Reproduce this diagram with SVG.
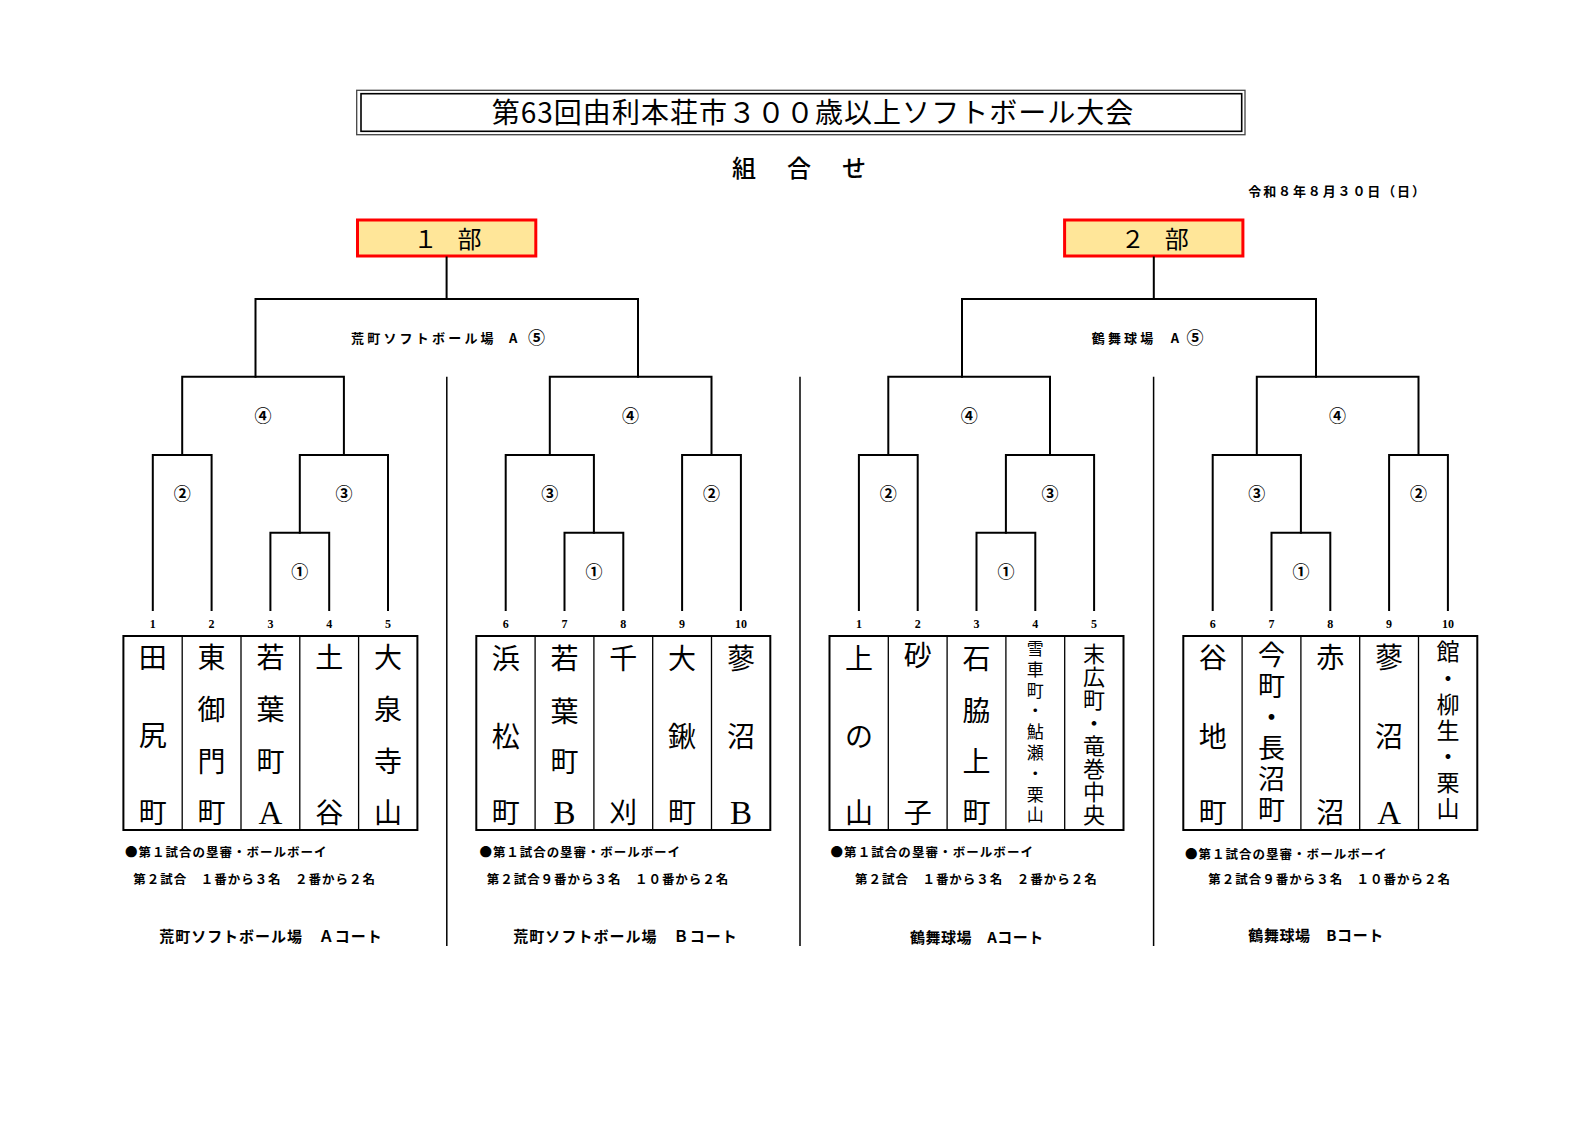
<svg xmlns="http://www.w3.org/2000/svg" width="1588" height="1123" viewBox="0 0 1588 1123">
<style>
.ln{stroke:#000;stroke-width:2;fill:none;stroke-linecap:square}
.dv{stroke:#000;stroke-width:1.5;fill:none}
.tb{stroke:#000;stroke-width:2;fill:#fff}
.cl{stroke:#000;stroke-width:1.3}
.jp{font-family:"Noto Sans CJK JP","Noto Sans",sans-serif}
.nm{font-family:"Noto Sans CJK JP",sans-serif;font-size:28px;text-anchor:middle;fill:#000}
.vt{font-family:"Noto Sans CJK JP",sans-serif;writing-mode:vertical-rl;text-orientation:upright;fill:#000}
.lat{font-family:"Liberation Serif","Noto Sans CJK JP",serif;font-size:33px;text-anchor:middle;fill:#000}
.num{font-family:"Liberation Serif",serif;font-size:12px;font-weight:bold;text-anchor:middle}
.cir{font-family:"Noto Sans CJK JP",sans-serif;font-size:17px;font-weight:bold;text-anchor:middle}
.ven{font-family:"Noto Sans CJK JP",sans-serif;font-size:13px;font-weight:bold}
.note{font-family:"Noto Sans CJK JP",sans-serif;font-size:12.5px;font-weight:bold}
.crt{font-family:"Noto Sans CJK JP",sans-serif;font-size:15px;font-weight:bold}
.bu{fill:#FFE699;stroke:#FF0000;stroke-width:3}
.but{font-family:"Noto Sans CJK JP",sans-serif;font-size:24px;text-anchor:middle;letter-spacing:-2px}
</style>
<rect x="0" y="0" width="1588" height="1123" fill="#fff"/>

<g id="title">
<rect x="356.7" y="90.3" width="888.3" height="44.4" fill="none" stroke="#444" stroke-width="1.3"/>
<rect x="361" y="93.7" width="880.7" height="37.6" fill="none" stroke="#000" stroke-width="1.6"/>
<text class="jp" x="491.7" y="123.2" font-size="28" textLength="641.6" lengthAdjust="spacing">第63回由利本荘市３００歳以上ソフトボール大会</text>
</g>
<g id="subtitle"><text class="jp" x="732" y="177.4" font-size="24" font-weight="500" letter-spacing="3.5">組　合　せ</text></g>
<g id="date"><text class="jp" x="1248.3" y="196" font-size="13" font-weight="bold" textLength="176.7" lengthAdjust="spacing">令和８年８月３０日（日）</text></g>

<g id="div1"><rect class="bu" x="357.5" y="220" width="178.3" height="36"/><text class="but" x="446.6" y="248">１　部</text></g>
<g id="div2"><rect class="bu" x="1064.6" y="220" width="178.3" height="36"/><text class="but" x="1153.8" y="248">２　部</text></g>

<g id="connectors">
<path class="ln" d="M446.6,257.5V299M255.5,376.7V299H638V376.7"/>
<path class="ln" d="M1153.8,257.5V299M962,376.7V299H1316V376.7"/>
<path class="ln" d="M152.8,610V455H211.6V610"/>
<path class="ln" d="M270.4,610V532.7H329.2V610"/>
<path class="ln" d="M299.8,532.7V455H388V610"/>
<path class="ln" d="M182.2,455V376.7H343.9V455"/>
<path class="ln" d="M505.7,610V455H593.9V532.7"/>
<path class="ln" d="M564.5,610V532.7H623.3V610"/>
<path class="ln" d="M682.1,610V455H740.9V610"/>
<path class="ln" d="M549.8,455V376.7H711.5V455"/>
<path class="ln" d="M858.9,610V455H917.7V610"/>
<path class="ln" d="M976.5,610V532.7H1035.3V610"/>
<path class="ln" d="M1005.9,532.7V455H1094.1V610"/>
<path class="ln" d="M888.3,455V376.7H1050V455"/>
<path class="ln" d="M1212.7,610V455H1300.9V532.7"/>
<path class="ln" d="M1271.5,610V532.7H1330.3V610"/>
<path class="ln" d="M1389.1,610V455H1447.9V610"/>
<path class="ln" d="M1256.8,455V376.7H1418.5V455"/>
<path class="dv" d="M446.8,376.7V946M800,376.7V946M1153.6,376.7V946"/>
</g>

<g id="match-labels">
<text class="ven" x="351" y="343" letter-spacing="3.2">荒町ソフトボール場</text>
<text class="ven" x="513.2" y="343" text-anchor="middle">A</text>
<text class="cir" x="536.4" y="344">⑤</text>
<text class="ven" x="1091.7" y="343" letter-spacing="3.2">鶴舞球場</text>
<text class="ven" x="1175" y="343" text-anchor="middle">A</text>
<text class="cir" x="1195" y="344">⑤</text>
<text class="cir" x="263" y="422">④</text><text class="cir" x="182.2" y="500">②</text><text class="cir" x="343.9" y="500">③</text><text class="cir" x="299.8" y="577.7">①</text>
<text class="cir" x="630.6" y="422">④</text><text class="cir" x="549.8" y="500">③</text><text class="cir" x="711.5" y="500">②</text><text class="cir" x="593.9" y="577.7">①</text>
<text class="cir" x="969.2" y="422">④</text><text class="cir" x="888.3" y="500">②</text><text class="cir" x="1050" y="500">③</text><text class="cir" x="1005.9" y="577.7">①</text>
<text class="cir" x="1337.6" y="422">④</text><text class="cir" x="1256.8" y="500">③</text><text class="cir" x="1418.5" y="500">②</text><text class="cir" x="1300.9" y="577.7">①</text>
</g>

<g id="seed-numbers">
<text class="num" x="152.8" y="628.3">1</text><text class="num" x="211.6" y="628.3">2</text><text class="num" x="270.4" y="628.3">3</text><text class="num" x="329.2" y="628.3">4</text><text class="num" x="388" y="628.3">5</text>
<text class="num" x="505.7" y="628.3">6</text><text class="num" x="564.5" y="628.3">7</text><text class="num" x="623.3" y="628.3">8</text><text class="num" x="682.1" y="628.3">9</text><text class="num" x="740.9" y="628.3">10</text>
<text class="num" x="858.9" y="628.3">1</text><text class="num" x="917.7" y="628.3">2</text><text class="num" x="976.5" y="628.3">3</text><text class="num" x="1035.3" y="628.3">4</text><text class="num" x="1094.1" y="628.3">5</text>
<text class="num" x="1212.7" y="628.3">6</text><text class="num" x="1271.5" y="628.3">7</text><text class="num" x="1330.3" y="628.3">8</text><text class="num" x="1389.1" y="628.3">9</text><text class="num" x="1447.9" y="628.3">10</text>
</g>

<g id="tables">
<rect class="tb" x="123.4" y="636" width="294" height="194"/>
<path class="cl" d="M182.2,636V830M241,636V830M299.8,636V830M358.6,636V830"/>
<rect class="tb" x="476.3" y="636" width="294" height="194"/>
<path class="cl" d="M535.1,636V830M593.9,636V830M652.7,636V830M711.5,636V830"/>
<rect class="tb" x="829.5" y="636" width="294" height="194"/>
<path class="cl" d="M888.3,636V830M947.1,636V830M1005.9,636V830M1064.7,636V830"/>
<rect class="tb" x="1183.3" y="636" width="294" height="194"/>
<path class="cl" d="M1242.1,636V830M1300.9,636V830M1359.7,636V830M1418.5,636V830"/>
</g>

<g id="teamA1"><text class="nm"><tspan x="152.8" y="667.5">田</tspan><tspan x="152.8" y="745.5">尻</tspan><tspan x="152.8" y="823">町</tspan></text></g>
<g id="teamA2"><text class="nm"><tspan x="211.6" y="667.5">東</tspan><tspan x="211.6" y="720">御</tspan><tspan x="211.6" y="772">門</tspan><tspan x="211.6" y="823">町</tspan></text></g>
<g id="teamA3"><text class="nm"><tspan x="270.4" y="667.5">若</tspan><tspan x="270.4" y="720">葉</tspan><tspan x="270.4" y="772">町</tspan></text><text class="lat" x="270.4" y="824">A</text></g>
<g id="teamA4"><text class="nm"><tspan x="329.2" y="667.5">土</tspan><tspan x="329.2" y="823">谷</tspan></text></g>
<g id="teamA5"><text class="nm"><tspan x="388" y="667.5">大</tspan><tspan x="388" y="720">泉</tspan><tspan x="388" y="772">寺</tspan><tspan x="388" y="823">山</tspan></text></g>

<g id="teamB6"><text class="nm"><tspan x="505.7" y="668.5">浜</tspan><tspan x="505.7" y="746.5">松</tspan><tspan x="505.7" y="822.5">町</tspan></text></g>
<g id="teamB7"><text class="nm"><tspan x="564.5" y="668.5">若</tspan><tspan x="564.5" y="721.5">葉</tspan><tspan x="564.5" y="772">町</tspan></text><text class="lat" x="564.5" y="823.5">B</text></g>
<g id="teamB8"><text class="nm"><tspan x="623.3" y="668.5">千</tspan><tspan x="623.3" y="822.5">刈</tspan></text></g>
<g id="teamB9"><text class="nm"><tspan x="682.1" y="668.5">大</tspan><tspan x="682.1" y="746.5">鍬</tspan><tspan x="682.1" y="822.5">町</tspan></text></g>
<g id="teamB10"><text class="nm"><tspan x="740.9" y="668.5">蓼</tspan><tspan x="740.9" y="746.5">沼</tspan></text><text class="lat" x="740.9" y="823.5">B</text></g>

<g id="teamC1"><text class="nm"><tspan x="858.9" y="668.5">上</tspan><tspan x="858.9" y="746.5">の</tspan><tspan x="858.9" y="822.5">山</tspan></text></g>
<g id="teamC2"><text class="nm"><tspan x="917.7" y="666">砂</tspan><tspan x="917.7" y="822.5">子</tspan></text></g>
<g id="teamC3"><text class="nm"><tspan x="976.5" y="668.5">石</tspan><tspan x="976.5" y="720.5">脇</tspan><tspan x="976.5" y="772">上</tspan><tspan x="976.5" y="822.5">町</tspan></text></g>
<g id="teamC4"><text class="vt" x="1035.3" y="640" font-size="17" letter-spacing="3.8">雪車町・鮎瀬・栗山</text></g>
<g id="teamC5"><text class="vt" x="1094.1" y="642.3" font-size="22" letter-spacing="1.1">末広町・竜巻中央</text></g>

<g id="teamD6"><text class="nm"><tspan x="1212.7" y="667.5">谷</tspan><tspan x="1212.7" y="747">地</tspan><tspan x="1212.7" y="822.5">町</tspan></text></g>
<g id="teamD7"><text class="vt" x="1271.5" y="641.5" font-size="27" letter-spacing="4">今町・長沼町</text></g>
<g id="teamD8"><text class="nm"><tspan x="1330.3" y="667.5">赤</tspan><tspan x="1330.3" y="822.5">沼</tspan></text></g>
<g id="teamD9"><text class="nm"><tspan x="1389.1" y="667.5">蓼</tspan><tspan x="1389.1" y="747">沼</tspan></text><text class="lat" x="1389.1" y="823.5">A</text></g>
<g id="teamD10"><text class="vt" x="1447.9" y="640.2" font-size="23" letter-spacing="3.1">館・柳生・栗山</text></g>

<g id="notes">
<text class="note" x="125" y="857.3" textLength="201.5" lengthAdjust="spacing">●第１試合の塁審・ボールボーイ</text>
<text class="note" x="133.3" y="883.8" textLength="241.7" lengthAdjust="spacing">第２試合　１番から３名　２番から２名</text>
<text class="crt" x="159.3" y="942" textLength="222.4" lengthAdjust="spacing">荒町ソフトボール場　Ａコート</text>

<text class="note" x="479.5" y="857.3" textLength="200.5" lengthAdjust="spacing">●第１試合の塁審・ボールボーイ</text>
<text class="note" x="486.7" y="883.5" textLength="241.6" lengthAdjust="spacing">第２試合９番から３名　１０番から２名</text>
<text class="crt" x="513.3" y="942" textLength="223.4" lengthAdjust="spacing">荒町ソフトボール場　Ｂコート</text>

<text class="note" x="830.5" y="857.3" textLength="202.5" lengthAdjust="spacing">●第１試合の塁審・ボールボーイ</text>
<text class="note" x="855" y="883.8" textLength="241.7" lengthAdjust="spacing">第２試合　１番から３名　２番から２名</text>
<text class="crt" x="910" y="943" textLength="133.3" lengthAdjust="spacing">鶴舞球場　Aコート</text>

<text class="note" x="1185" y="858.5" textLength="201.7" lengthAdjust="spacing">●第１試合の塁審・ボールボーイ</text>
<text class="note" x="1208.3" y="883.5" textLength="241.7" lengthAdjust="spacing">第２試合９番から３名　１０番から２名</text>
<text class="crt" x="1248.3" y="941" textLength="135" lengthAdjust="spacing">鶴舞球場　Bコート</text>
</g>
</svg>
